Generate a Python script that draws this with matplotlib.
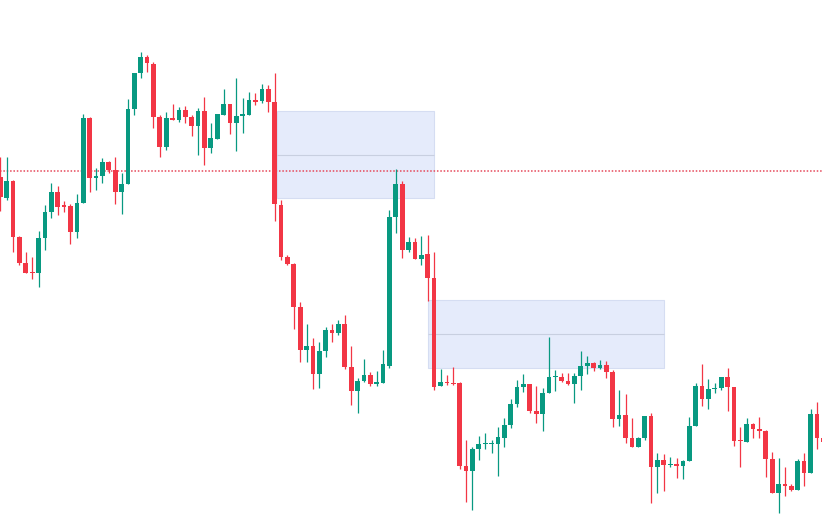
import matplotlib
matplotlib.use("Agg")
import matplotlib.pyplot as plt
import numpy as np

# OHLC (arbitrary price units, higher = up)
opens = [345, 323.7, 341, 285.3, 259.3, 250.3, 248.7, 284.3, 310.3, 330,
         317, 316, 289.7, 318.7, 404.3, 343.7, 346, 360.3, 352, 329.7,
         338, 413, 448.7, 464.7, 458, 405.3, 375.3, 404.3, 402, 412,
         405.3, 396.3, 411.3, 374.3, 383, 407, 417.7, 399.3, 406.3, 407,
         422, 421, 432.7, 420.3, 317, 265.3, 258, 215.3, 172, 176.3,
         148, 171.3, 192, 189.3, 198, 155.3, 131.3, 141, 147, 137.7,
         138.7, 156, 305.3, 338, 272, 280, 263, 267.7, 243.7, 136.3,
         140.3, 139.3, 139.3, 56, 51.3, 72.7, 78, 78, 78, 84.3,
         97, 117.7, 135.3, 138, 111, 107.7, 129.3, 144.7, 145.3, 141,
         138, 146, 156, 158.7, 153.7, 157, 150.3, 102.7, 107, 84.3,
         74.7, 83.7, 106, 54.7, 62, 56.7, 58, 56, 61.3, 96,
         136, 122.7, 133, 134.3, 144.7, 135.3, 81.3, 80.3, 98, 92.7,
         91.3, 62.7, 29.3, 38, 36, 32, 61.3, 49.3, 108, 83.7]
highs = [365, 365.3, 342, 286, 269.7, 265, 291, 317, 339.3, 336.3,
         321.3, 318, 328, 408, 405.3, 353.7, 363.7, 361.3, 364.7, 348.7,
         423, 449, 470.3, 467, 460.3, 407, 410.3, 417.7, 415.3, 416,
         407, 413.7, 425.3, 399.3, 407.7, 433, 417.7, 444.3, 423.7, 430.3,
         428.7, 437.7, 437, 448.7, 322, 267, 258.7, 220.3, 197.7, 183.7,
         180.3, 194.7, 197.7, 202, 207, 176, 143.7, 162.7, 150.3, 151.3,
         172, 312, 352.7, 341.3, 284.7, 284.3, 286, 286.7, 270.3, 152.7,
         147, 154.7, 140.3, 82, 75.3, 86, 88.7, 82, 95.3, 104.3,
         122.7, 142, 147.7, 138, 136, 133.7, 185.3, 152, 148.7, 149.3,
         148.7, 171.3, 166, 160.3, 162, 161.3, 152, 132, 127.7, 104.3,
         85.3, 106, 109.3, 68.7, 68, 65.3, 63.7, 62, 104.7, 138.7,
         158, 142.7, 139.3, 145.3, 153.7, 135.3, 95.3, 104.3, 99.3, 104.7,
         92, 70.3, 63.7, 55.3, 38, 62.7, 69.3, 112.7, 120.3, 90]
lows = [311, 322, 270.3, 257, 248.7, 242.7, 235.3, 272, 304.3, 307,
        310.3, 278, 283.7, 318.7, 330.3, 332, 339.3, 348.7, 318, 308,
        338, 407, 443.7, 450.3, 393.7, 365.3, 372, 402, 400.3, 398.7,
        386.3, 367, 357, 368.7, 383, 407, 388, 371.3, 389.3, 407,
        417, 418.7, 410.3, 301, 262, 257, 192.7, 160.3, 160.3, 132.7,
        133.7, 165.3, 180.3, 187, 152.7, 117, 108.7, 140.3, 136, 136,
        138.7, 153.7, 288.7, 263.7, 270.3, 263, 257, 221.3, 132, 136.3,
        137, 137, 52.7, 19.7, 12, 62, 72.7, 69.3, 46, 75.3,
        93.7, 115.3, 130.3, 109.3, 99.3, 91, 129.3, 131.3, 140.3, 137,
        118.7, 132, 147.7, 151.3, 152.7, 144.3, 95.3, 96, 78.7, 74.7,
        74.7, 82, 18.7, 28.7, 31.3, 55.3, 43.7, 42.7, 61.3, 96,
        116, 112.7, 129.3, 132, 111, 76, 54.7, 80.3, 83.7, 83.7,
        45.3, 29.3, 8.7, 26, 31.3, 32, 36, 49.3, 72.7, 70]
closes = [325, 341.3, 285, 258.7, 249.3, 248.7, 284.3, 310.3, 330, 315.3,
          315.3, 289.7, 318.7, 404.3, 343.7, 346, 360.3, 352, 329.7, 338,
          413, 448.7, 464.7, 458.7, 405.3, 375.3, 404.3, 402, 412, 405.3,
          396.3, 411.3, 374.3, 383.7, 407.7, 417.7, 399.3, 406.3, 407.7, 422,
          420.3, 432.7, 420.3, 317.7, 265.3, 258, 215.3, 172, 176.3, 148,
          171.3, 192, 189.3, 198, 155.3, 131.3, 141, 147, 137.7, 139.7,
          157.7, 305.3, 338, 272, 280, 263, 267, 243.7, 135.3, 140.3,
          138.7, 138, 56, 51.3, 72.7, 78, 79.3, 79.3, 84.7, 97,
          117.7, 135.3, 138, 111, 107.7, 129.3, 144.7, 146, 141, 138,
          146, 156, 158.7, 153.7, 157, 150.3, 102.7, 107, 84.3, 74.7,
          83.7, 106, 54.7, 62, 57, 57.7, 56.3, 61.3, 96, 136,
          122.7, 133, 134.3, 144.7, 135.3, 81, 80.7, 98, 92.7, 91,
          62.7, 29.3, 38, 36, 32, 61.3, 49.3, 108, 83.7, 80]

# supply zones: (first candle, last candle, top, bottom)
zone_starts = [43.4, 67.0]
zone_ends = [68.0, 104.0]
zone_tops = [411, 222]
zone_bottoms = [324, 153.7]

level_price = 351.3  # dotted red level

UP = "#089981"
DOWN = "#F23645"

o = np.array(opens)
h = np.array(highs)
l = np.array(lows)
c = np.array(closes)
x = np.arange(len(o))
up = c >= o
colors = np.where(up, UP, DOWN)

fig = plt.figure(figsize=(8.22, 5.22), dpi=100)
ax = fig.add_axes([0, 0, 1, 1])

# zones
for x0, x1, top, bot in zip(zone_starts, zone_ends, zone_tops, zone_bottoms):
    ax.add_patch(plt.Rectangle((x0, bot), x1 - x0, top - bot,
                               facecolor="#e5ebfb", edgecolor="#d5ddf2",
                               linewidth=0.8, zorder=1))
    ax.hlines((top + bot) / 2, x0, x1, color="#c8cfe0", linewidth=0.8, zorder=1)

ax.axhline(level_price, color="#e5485a", linestyle=(0, (1, 1.2)),
           linewidth=1.1, zorder=2)

# wicks then bodies
ax.vlines(x, l, h, color=colors, linewidth=0.9, zorder=3)
body_bot = np.minimum(o, c)
body_h = np.maximum(np.abs(c - o), 1.3)
ax.bar(x, body_h, bottom=body_bot, width=0.74, color=colors,
       linewidth=0, zorder=4)

ax.set_xlim(-0.05, 128.8)
ax.set_ylim(0, 522)
ax.axis("off")

fig.savefig("out.png", dpi=100)
plt.close(fig)
